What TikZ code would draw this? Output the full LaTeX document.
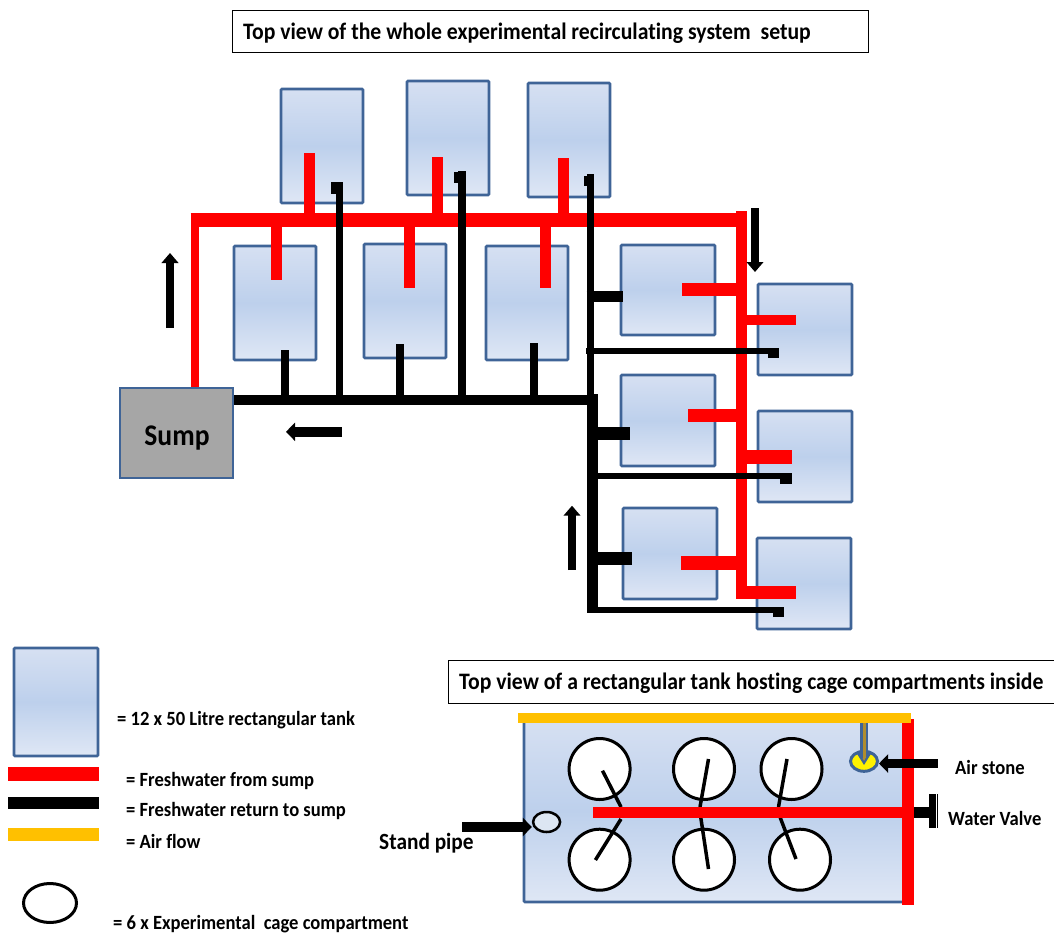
\documentclass[tikz,border=0pt]{standalone}
\usepackage{fontspec}
\setmainfont[FakeStretch=0.92,Ligatures=NoCommon]{Carlito}
\usetikzlibrary{arrows.meta,shapes.geometric}
\definecolor{tankblue}{HTML}{3F6497}
\definecolor{tanktop}{HTML}{D6E0F2}
\definecolor{tankmid}{HTML}{BDD0EC}
\definecolor{tankbot}{HTML}{DFE7F5}
\definecolor{gold}{HTML}{FFC000}
\definecolor{stemgold}{HTML}{B08D2E}
\definecolor{sumpgray}{HTML}{A6A6A6}
\definecolor{standfill}{HTML}{DCE6F2}
\tikzset{
  tankstyle/.style={rectangle,draw=tankblue,line width=2.8pt,top color=tanktop,bottom color=tankbot,middle color=tankmid,rounded corners=1pt,inner sep=0pt},
  titlebox/.style={rectangle,draw=black,line width=1pt,fill=white,inner sep=0pt},
  redpipe/.style={draw=red,line width=#1},
  redpipe/.default=11pt,
  blackpipe/.style={draw=black,line width=#1},
  blackpipe/.default=7pt,
  flow/.style={draw=black,line width=8pt,-{Triangle[width=16.5pt,length=10pt]}},
  flowh/.style={draw=black,line width=9.5pt,-{Triangle[width=18pt,length=9pt]}},
  cage/.style={circle,draw=black,line width=3pt,fill=white,minimum size=61pt,inner sep=0pt},
  rod/.style={draw=black,line width=3.5pt},
  label/.style={anchor=west,inner sep=0pt,font=\bfseries\fontsize{#1}{#1}\selectfont},
  label/.default=20.2pt
}
\newcommand\tankbox[5]{%
  \pgfmathsetmacro\tcx{(#2+#4)/2}\pgfmathsetmacro\tcy{(#3+#5)/2}%
  \pgfmathsetmacro\tw{#4-#2}\pgfmathsetmacro\th{#5-#3}%
  \node[tankstyle,minimum width=\tw pt,minimum height=\th pt] (#1) at (\tcx,\tcy) {};}
\begin{document}
\begin{tikzpicture}[x=1pt,y=-1pt]
\useasboundingbox (0,0) rectangle (1054,934);
% titles
\node[titlebox,minimum width=636pt,minimum height=42pt] (title1) at (550,32) {};
\node[label=23.6pt] (title1t) at (243,33) {Top view of the whole experimental recirculating system\ \ setup};
\node[titlebox,minimum width=620pt,minimum height=43pt] (title2) at (758,681.5) {};
\node[label=23.6pt] (title2t) at (459,683) {Top view of a rectangular tank hosting cage compartments inside};
% tanks
\tankbox{t1}{281}{89}{363}{203}
\tankbox{t2}{407}{81}{489}{195}
\tankbox{t3}{528}{83}{610}{197}
\tankbox{t4}{234}{246}{316}{360}
\tankbox{t5}{364}{244}{446}{358}
\tankbox{t6}{486}{246}{568}{360}
\tankbox{t7}{621}{245}{715}{335}
\tankbox{t8}{621}{375}{715}{466}
\tankbox{t9}{623}{508}{717}{599}
\tankbox{t10}{758}{284}{852}{375}
\tankbox{t11}{758}{411}{852}{502}
\tankbox{t12}{757}{538}{851}{629}
\node[rectangle,draw=tankblue,line width=2.8pt,fill=sumpgray,minimum width=113pt,minimum height=90pt,inner sep=0pt] (sump) at (176.5,433) {};
\node[inner sep=0pt,font=\bfseries\fontsize{30pt}{30pt}\selectfont] (sumpt) at (177,438) {Sump};
% red network
\coordinate (rl) at (195,220);
\coordinate (rr) at (741.3,220);
\draw[redpipe=13.5pt] (190.5,220) -- (rr);
\draw[redpipe=8.5pt] (195,213.5) -- (sump.north -| rl);
\draw[redpipe=10.5pt] (741.3,211) -- (741.3,599.3);
\draw[redpipe] (309.6,153) -- (309.6,219);
\draw[redpipe] (437,157) -- (437,219);
\draw[redpipe] (563,158) -- (563,219);
\draw[redpipe] (276,219) -- (276,279.6);
\draw[redpipe] (409,219) -- (409,287.6);
\draw[redpipe] (545.6,219) -- (545.6,287.6);
\draw[redpipe=13pt] (682,289.5) -- (737,289.5);
\draw[redpipe=13pt] (688,415.5) -- (737,415.5);
\draw[redpipe=13.5pt] (681,563) -- (737,563);
\draw[redpipe=10pt] (746,320) -- (796,320);
\draw[redpipe=13.5pt] (737,457) -- (791.7,457);
\draw[redpipe=13.5pt] (736,592.6) -- (796,592.6);
% black network
\draw[blackpipe=10pt] (sump.east |- 0,399.8) -- (597.7,399.8);
\draw[blackpipe=11.6pt] (592.5,394.3) -- (592.5,613);
\draw[blackpipe] (590.3,174) -- (590.3,400);
\draw[blackpipe=6.8pt] (339.3,182) -- (339.3,399);
\draw[blackpipe=7.5pt] (462,171) -- (462,399);
\draw[blackpipe=8.3pt] (285,350) -- (285,399);
\draw[blackpipe=8.3pt] (400,344) -- (400,399);
\draw[blackpipe=8.3pt] (534,343) -- (534,399);
\draw[blackpipe=11.7pt] (331,187.9) -- (342.7,187.9);
\draw[blackpipe=11.7pt] (454.3,177.5) -- (466,177.5);
\draw[blackpipe=9.7pt] (584.3,181) -- (594,181);
\draw[blackpipe=11pt] (586.7,296) -- (622.7,296);
\draw[blackpipe=13pt] (598,433) -- (630,433);
\draw[blackpipe=13pt] (598,558.7) -- (631.7,558.7);
\draw[blackpipe=5.3pt] (586,351) -- (779,351);
\draw[blackpipe=9.7pt] (767.7,353.2) -- (779,353.2);
\draw[blackpipe=6pt] (592,476.3) -- (791.7,476.3);
\draw[blackpipe=10.7pt] (780,478.6) -- (791.7,478.6);
\draw[blackpipe=5.4pt] (592,610) -- (784,610);
\draw[blackpipe=10pt] (772.7,612.3) -- (784,612.3);
% flow arrows
\draw[flow] (170,328) -- (170,253);
\draw[flowh] (341.7,431.8) -- (286,431.8);
\draw[flow] (755,208) -- (755,272);
\draw[flow] (572,570) -- (572,505.7);
% legend
\tankbox{legtank}{14}{648}{98}{756}
\draw[redpipe=14pt] (8,774) -- (99,774);
\draw[blackpipe=12pt] (8,803) -- (99,803);
\draw[draw=gold,line width=13pt] (8,834.5) -- (99,834.5);
\node[ellipse,draw=black,line width=3pt,minimum width=53pt,minimum height=39pt,inner sep=0pt] (legcage) at (50,903) {};
\node[label] (l1) at (117,720.5) {= 12 x 50 Litre rectangular tank};
\node[label] (l2) at (126,781) {= Freshwater from sump};
\node[label] (l3) at (126,811) {= Freshwater return to sump};
\node[label] (l4) at (126,841) {= Air flow};
\node[label] (l5) at (113,924) {= 6 x Experimental\ \ cage compartment};
% detail tank
\tankbox{detail}{524}{720}{908}{902}
\draw[redpipe=11.4pt] (908,719) -- (908,905);
\draw[draw=gold,line width=10pt] (518,718) -- (911,718);
\foreach \n/\cx/\cy in {c1/599.6/769,c2/704/769,c3/791.5/769,c4/599.6/859.7,c5/704/859.7,c6/800/859.7}
  \node[cage] (\n) at (\cx,\cy) {};
\draw[rod] (602.5,770.7) -- (621,807);
\draw[rod] (708.5,759) -- (700,807);
\draw[rod] (787,759) -- (778.5,807);
\draw[rod] (621,819) -- (595.4,860);
\draw[rod] (700.7,817) -- (708.5,869);
\draw[rod] (780,817) -- (796,859);
\draw[redpipe=10.4pt] (593,812.5) -- (905,812.5);
% stand pipe
\node[ellipse,draw=black,line width=2.5pt,fill=standfill,minimum width=27pt,minimum height=20pt,inner sep=0pt] (stand) at (546.6,822) {};
\coordinate (standtail) at (462,827);
\draw[flowh] (standtail) -- (stand.west |- standtail);
\node[label=23.2pt] (standt) at (379,843) {Stand pipe};
% air stone
\node[ellipse,draw=tankblue,line width=3pt,fill=yellow,minimum width=27pt,minimum height=20pt,inner sep=0pt] (stone) at (864,761.3) {};
\fill[tankblue] (856.5,753) -- (864,765) -- (871.5,753) -- cycle;
\draw[draw=tankblue,line width=8pt] (864,723) -- (864,755);
\draw[draw=stemgold,line width=3pt] (864,723) -- (864,758);
\fill[stemgold] (862.5,758) -- (864,761) -- (865.5,758) -- cycle;
\coordinate (stonetail) at (937.5,763.5);
\draw[flowh] (stonetail) -- (stone.east |- stonetail);
\node[label] (stonet) at (955,767) {Air stone};
% valve
\coordinate (valvebase) at (914,812.4);
\coordinate (valvehead) at (930,812.4);
\draw[blackpipe=10.6pt] (valvebase) -- (valvehead);
\draw[blackpipe=7pt] (932.5,794.3) -- (932.5,828.3);
\draw[draw=black,line width=1pt] (937.5,794.3) -- (937.5,828.3);
\node[label] (valvet) at (948,818) {Water Valve};
\end{tikzpicture}
\end{document}
